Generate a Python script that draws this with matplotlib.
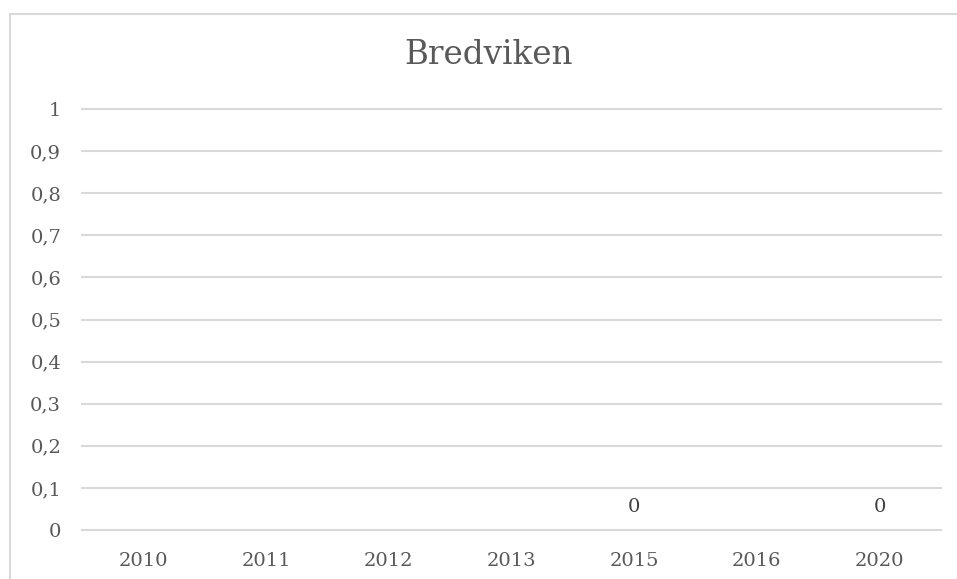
import numpy as np
import matplotlib.pyplot as plt
from matplotlib.patches import Rectangle

years = ["2010", "2011", "2012", "2013", "2015", "2016", "2020"]
values = [np.nan, np.nan, np.nan, np.nan, 0, np.nan, 0]
y_ticks = [0, 0.1, 0.2, 0.3, 0.4, 0.5, 0.6, 0.7, 0.8, 0.9, 1]
y_labels = ["0", "0,1", "0,2", "0,3", "0,4", "0,5", "0,6", "0,7", "0,8", "0,9", "1"]

TEXT = "#595959"
GRID = "#d9d9d9"
plt.rcParams["font.family"] = ["DejaVu Serif"]

W, H = 957, 579
fig = plt.figure(figsize=(W / 100, H / 100), dpi=100)
ax = fig.add_axes([82 / W, 1 - 530 / H, (941 - 82) / W, (530 - 109) / H])

# chart frame (only top/left edges are visible in the crop)
fig.patches.append(Rectangle((9.5 / W, -0.1), 1.2, 1.1 - 13.5 / H,
                             transform=fig.transFigure, fill=False,
                             edgecolor=GRID, lw=1.5))

x = np.arange(len(years))
heights = np.nan_to_num(values)
ax.bar(x, heights, width=0.6, color="#4472c4")
for xi, v in zip(x, values):
    if not np.isnan(v):
        ax.annotate(f"{v:g}", (xi, v), xytext=(0, 10), textcoords="offset points",
                    ha="center", va="bottom", fontsize=14, color="#404040")

ax.set_xlim(-0.5, len(years) - 0.5)
ax.set_ylim(0, 1)
ax.set_xticks(x, years)
ax.set_yticks(y_ticks, y_labels)
ax.tick_params(length=0, labelsize=14, colors=TEXT)
ax.tick_params(axis="x", pad=16)
ax.tick_params(axis="y", pad=15)
ax.grid(axis="y", color=GRID, lw=1.5)
for gl in ax.yaxis.get_gridlines():
    gl.set_clip_on(False)
ax.set_axisbelow(True)
for s in ax.spines.values():
    s.set_visible(False)

fig.text(489 / W, 1 - 55 / H, "Bredviken", ha="center", va="center",
         fontsize=23.5, color=TEXT)

fig.savefig("out.png", dpi=100)
